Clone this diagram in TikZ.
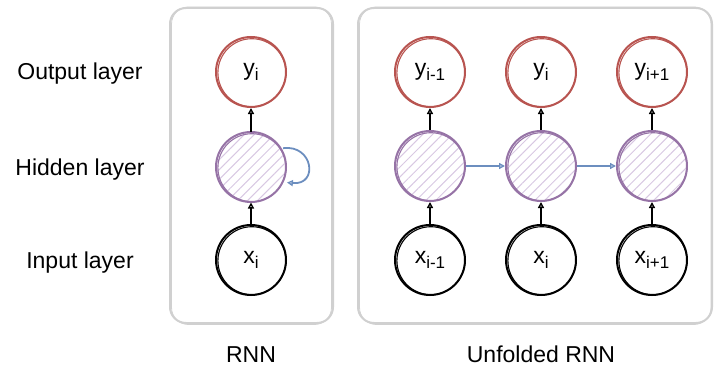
\documentclass[tikz,border=0pt]{standalone}
\usepackage{fontspec}
\setmainfont{Liberation Sans}
\usetikzlibrary{arrows.meta,patterns.meta}
\definecolor{outred}{HTML}{B85450}
\definecolor{hidpurple}{HTML}{9673A6}
\definecolor{hatch}{HTML}{D8C8E2}
\definecolor{recblue}{HTML}{6C8EBF}
\definecolor{frame}{HTML}{D0D0D0}
% lowered index in the unit labels
\newcommand\lowidx[1]{\raisebox{-5pt}{\fontsize{17}{20}\selectfont #1}}
\begin{document}
\begin{tikzpicture}[x=1pt,y=-1pt,
  every node/.style={font=\fontsize{23}{27}\selectfont},
  unit/.style={circle,minimum size=70pt,inner sep=0pt,line width=2pt},
  outunit/.style={unit,draw=outred},
  hidunit/.style={unit,draw=hidpurple,
    pattern={Lines[angle=45,distance=7pt,line width=1pt]},pattern color=hatch},
  inunit/.style={unit,draw=black},
  ff/.style={-{Triangle[open,length=6pt,width=6pt,line width=1.4pt]},line width=2pt,black},
  rec/.style={-{Triangle[open,length=6pt,width=6pt,line width=1.4pt]},line width=1.8pt,recblue},
  panel/.style={draw=frame,line width=2pt,rounded corners=16pt},
  panelsketch/.style={draw=frame,line width=0.8pt,rounded corners=17pt},
  ring/.style={line width=1.1pt},
]
\useasboundingbox (0,0) rectangle (715,369);

% panels
\draw[panel] (170,8) rectangle (333,323);
\draw[panelsketch] (171.5,7) rectangle (331.5,324.5);
\draw[panel] (358,8) rectangle (712,323);
\draw[panelsketch] (359.5,7) rectangle (711,324.5);

% row labels
\node[anchor=base] (lout) at (80,80) {Output layer};
\node[anchor=base] (lhid) at (80,175) {Hidden layer};
\node[anchor=base] (lin)  at (80,268) {Input layer};

% folded network
\node[outunit] (y0) at (251,72)  {y\lowidx{i}};
\node[hidunit] (h0) at (251,167) {};
\node[inunit]  (x0) at (251,260) {x\lowidx{i}};

% unfolded network
\node[outunit] (y1) at (430,72)  {y\lowidx{i-1}};
\node[outunit] (y2) at (541,72)  {y\lowidx{i}};
\node[outunit] (y3) at (652,72)  {y\lowidx{i+1}};
\node[hidunit] (h1) at (430,166) {};
\node[hidunit] (h2) at (541,166) {};
\node[hidunit] (h3) at (652,166) {};
\node[inunit]  (x1) at (430,260) {x\lowidx{i-1}};
\node[inunit]  (x2) at (541,260) {x\lowidx{i}};
\node[inunit]  (x3) at (652,260) {x\lowidx{i+1}};

% second pencil stroke around each unit
\foreach \n/\c in {y0/outred,y1/outred,y2/outred,y3/outred,
                   h0/hidpurple,h1/hidpurple,h2/hidpurple,h3/hidpurple,
                   x0/black,x1/black,x2/black,x3/black}
  \draw[ring,\c] ([shift={(0.9,0.7)}]\n.center) circle (34pt);

% feed-forward connections
\foreach \i in {0,1,2,3} {
  \draw[ff] (x\i.north) -- (h\i.south);
  \draw[ff] (h\i.north) -- (y\i.south);
}

% recurrent connections
\draw[rec] ([xshift=2pt]h0.32) .. controls +(30,-4) and +(32,3) .. ([xshift=4pt]h0.-26);
\draw[rec] (h1.east) -- (h2.west);
\draw[rec] (h2.east) -- (h3.west);

% panel captions
\node[anchor=base] (cap1) at (251,362) {RNN};
\node[anchor=base] (cap2) at (541,362) {Unfolded RNN};
\end{tikzpicture}
\end{document}
